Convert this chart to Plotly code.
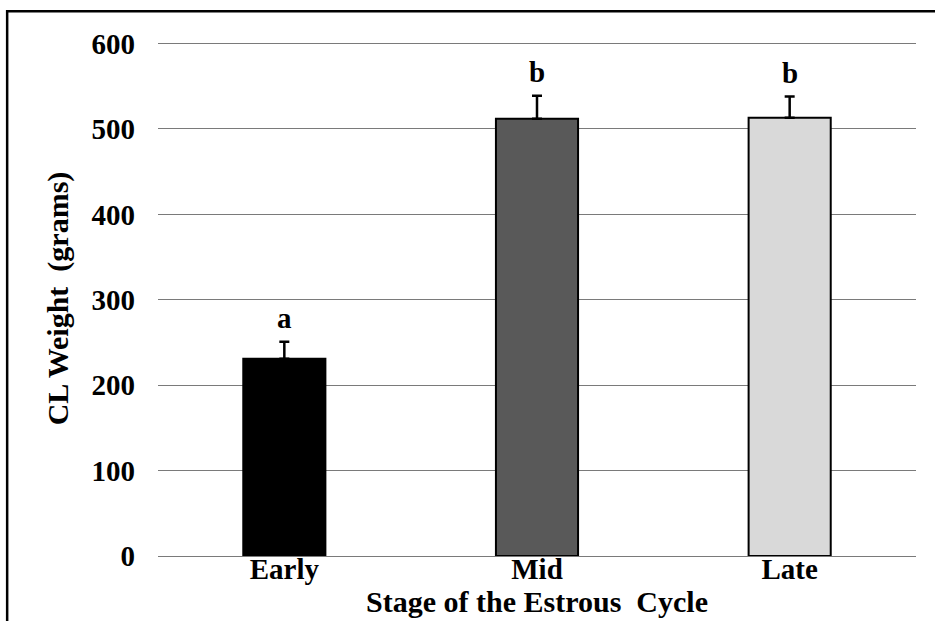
import plotly.graph_objects as go

# CL weight by stage of the estrous cycle
stages = ["Early", "Mid", "Late"]
cl_weight = [231, 512, 513]
sem = [20, 27, 25]
letters = ["a", "b", "b"]
bar_colors = ["#000000", "#595959", "#d9d9d9"]
y_ticks = [0, 100, 200, 300, 400, 500, 600]

FAMILY = "Liberation Serif, Times New Roman, serif"
TICK_FONT = dict(family=FAMILY, color="black", size=29, weight="bold")
TITLE_FONT = dict(family=FAMILY, color="black", size=30, weight="bold")

fig = go.Figure()
fig.add_trace(go.Bar(
    x=stages,
    y=cl_weight,
    width=0.325,
    marker=dict(color=bar_colors, line=dict(color="black", width=2)),
    error_y=dict(type="data", symmetric=False, array=sem, arrayminus=[0] * len(sem),
                 color="black", thickness=2.5, width=5),
))

# significance letters above each error bar
for s, v, e, lab in zip(stages, cl_weight, sem, letters):
    fig.add_annotation(x=s, y=v + e, text=lab, showarrow=False,
                       yanchor="bottom", yshift=6, font=TICK_FONT)

# outer frame of the figure
fig.add_shape(type="rect", xref="paper", yref="paper",
              x0=-0.199, x1=1.2, y0=-0.3, y1=1.058,
              line=dict(color="black", width=2.5), fillcolor="rgba(0,0,0,0)", layer="above")

fig.update_layout(
    width=935, height=621,
    margin=dict(l=158, r=19, t=41, b=65),
    paper_bgcolor="white", plot_bgcolor="white",
    showlegend=False,
    font=TICK_FONT,
    xaxis=dict(
        title=dict(text="Stage of the Estrous  Cycle", font=TITLE_FONT, standoff=2),
        tickfont=TICK_FONT, showgrid=False, showline=True, linecolor="#7a7a7a", linewidth=1.3,
        ticks="", range=[-0.5, 2.5], automargin=False, ticklabelstandoff=-13,
    ),
    yaxis=dict(
        title=dict(text="CL Weight  (grams)", font=TITLE_FONT, standoff=14),
        tickfont=TICK_FONT, range=[0, 603], tickvals=y_ticks, showgrid=True,
        gridcolor="#7a7a7a", gridwidth=1.3, zeroline=False, ticks="",
        ticklabelstandoff=22, automargin=False,
    ),
)

fig.write_html("out.html")
